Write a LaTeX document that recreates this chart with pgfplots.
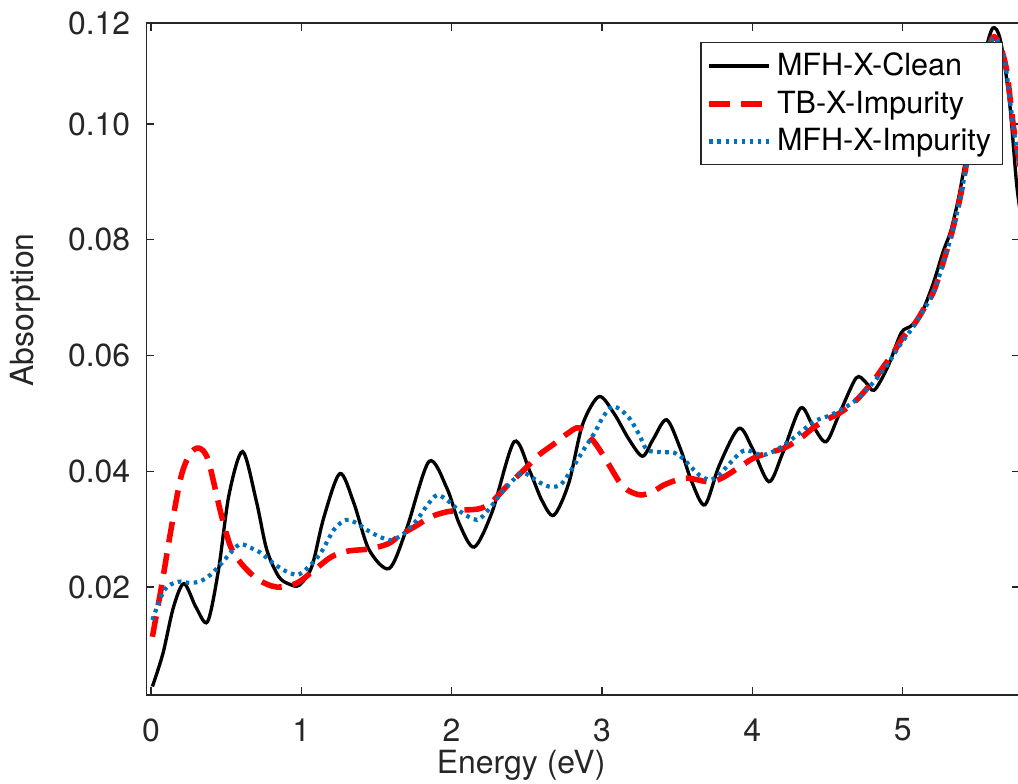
\documentclass[border=0pt]{standalone}
\usepackage{fontspec}
\setmainfont{TeX Gyre Heros}
\usepackage{pgfplots}
\pgfplotsset{compat=1.18}
\definecolor{axgray}{rgb}{0.15,0.15,0.15}
\definecolor{mblue}{rgb}{0,0.447,0.741}
\begin{document}
\begin{tikzpicture}
\begin{axis}[name=ax, scale only axis, width=314.5pt, height=241.9pt,
  xmin=-0.03, xmax=5.78, ymin=0.00134, ymax=0.11745,
  xtick={0,1,2,3,4,5},
  ytick={0.02,0.04,0.06,0.08,0.10,0.11745},
  yticklabels={0.02,0.04,0.06,0.08,0.10,0.12},
  scaled y ticks=false,
  /pgf/number format/assume math mode=true,
  tick label style={font=\fontsize{11.5}{13}\selectfont, text=axgray},
  yticklabel style={xshift=-2.3pt},
  xticklabel style={yshift=-5pt},
  axis line style={axgray, line width=0.5pt},
  major tick style={axgray, line width=0.5pt},
  major tick length=2.9pt,
  tick align=inside,
  xlabel={Energy (eV)}, ylabel={Absorption},
  label style={font=\fontsize{11.5}{13}\selectfont, text=axgray},
  xlabel style={at={(axis description cs:0.429,0)}, anchor=center, yshift=-25.2pt},
  ylabel style={at={(axis description cs:0,0.573)}, anchor=center, yshift=43.4pt},
  legend cell align=left,
  legend image code/.code={\draw[#1] (0cm,0cm) -- (0.75cm,0cm);},
  legend style={at={(1,1)}, anchor=north east, xshift=-6.1pt, yshift=-6.8pt,
    draw=axgray, line width=0.5pt, fill=white, font=\fontsize{11}{13}\selectfont,
    inner xsep=2pt, inner ysep=1.6pt, row sep=0pt},
]
\addplot[black, line width=1.2pt, smooth, tension=0.5] table {
0.01 0.0028
0.08 0.0085
0.15 0.0165
0.22 0.0206
0.30 0.0165
0.377 0.0140
0.45 0.0230
0.52 0.0360
0.61 0.0434
0.70 0.0350
0.77 0.0265
0.85 0.0218
0.92 0.0205
0.986 0.0203
1.07 0.0235
1.15 0.0320
1.257 0.0396
1.35 0.0345
1.45 0.0265
1.585 0.0232
1.70 0.0300
1.85 0.0417
1.97 0.0370
2.05 0.0310
2.15 0.0269
2.27 0.0330
2.416 0.0451
2.52 0.0400
2.60 0.0350
2.68 0.0324
2.78 0.0380
2.87 0.0480
2.98 0.0529
3.08 0.0500
3.18 0.0455
3.27 0.0426
3.34 0.0455
3.43 0.0489
3.52 0.0440
3.60 0.0380
3.685 0.0342
3.78 0.0410
3.91 0.0474
4.00 0.0440
4.11 0.0382
4.20 0.0430
4.32 0.0509
4.40 0.0480
4.49 0.0451
4.58 0.0500
4.69 0.0561
4.75 0.0555
4.81 0.0540
4.90 0.0580
4.99 0.0639
5.05 0.0650
5.12 0.0670
5.20 0.0722
5.27 0.0780
5.32 0.0815
5.37 0.0870
5.41 0.0926
5.45 0.0985
5.50 0.1055
5.55 0.1125
5.60 0.1166
5.65 0.1145
5.71 0.1040
5.76 0.0891
5.80 0.0820
};
\addlegendentry{MFH-X-Clean}
\addplot[red, line width=2pt, dash pattern=on 7.5pt off 4pt, smooth, tension=0.5] table {
0.01 0.0114
0.07 0.0200
0.133 0.0298
0.20 0.0390
0.26 0.0430
0.32 0.0440
0.38 0.0420
0.465 0.0328
0.53 0.0270
0.60 0.0241
0.70 0.0215
0.80 0.0202
0.875 0.0200
0.98 0.0208
1.085 0.0229
1.20 0.0252
1.31 0.0262
1.46 0.0266
1.58 0.0275
1.66 0.0290
1.76 0.0305
1.86 0.0321
1.97 0.0330
2.08 0.0333
2.18 0.0335
2.26 0.0345
2.37 0.0375
2.48 0.0402
2.58 0.0428
2.68 0.0447
2.77 0.0465
2.85 0.0475
2.95 0.0450
3.04 0.0414
3.12 0.0380
3.18 0.0366
3.26 0.0359
3.34 0.0365
3.41 0.0376
3.50 0.0385
3.57 0.0388
3.64 0.0385
3.70 0.0382
3.77 0.0385
3.83 0.0393
3.92 0.0408
4.01 0.0423
4.11 0.0432
4.21 0.0440
4.31 0.0455
4.41 0.0476
4.50 0.0490
4.59 0.0502
4.70 0.0525
4.81 0.0558
4.87 0.0580
4.94 0.0605
4.99 0.0627
5.08 0.0655
5.15 0.0685
5.21 0.0713
5.28 0.0770
5.33 0.0815
5.38 0.0870
5.42 0.0925
5.46 0.0985
5.51 0.1055
5.56 0.1120
5.60 0.1150
5.64 0.1140
5.69 0.1095
5.74 0.0990
5.80 0.0900
};
\addlegendentry{TB-X-Impurity}
\addplot[mblue, line width=1.5pt, dash pattern=on 1.3pt off 1.6pt, smooth, tension=0.5] table {
0.01 0.0143
0.09 0.0195
0.18 0.0209
0.26 0.0207
0.33 0.0210
0.40 0.0222
0.47 0.0241
0.585 0.0273
0.66 0.0268
0.73 0.0259
0.81 0.0242
0.885 0.0229
0.975 0.0221
1.05 0.0235
1.13 0.0259
1.22 0.0300
1.30 0.0316
1.37 0.0310
1.44 0.0298
1.52 0.0287
1.60 0.0281
1.68 0.0292
1.77 0.0316
1.84 0.0342
1.905 0.0359
1.98 0.0348
2.06 0.0330
2.17 0.0316
2.25 0.0335
2.33 0.0362
2.41 0.0385
2.48 0.0397
2.59 0.0380
2.66 0.0373
2.73 0.0378
2.81 0.0408
2.88 0.0438
2.95 0.0466
3.01 0.0495
3.07 0.0512
3.13 0.0505
3.19 0.0489
3.25 0.0462
3.30 0.0437
3.39 0.0433
3.48 0.0432
3.54 0.0422
3.59 0.0408
3.65 0.0393
3.72 0.0385
3.78 0.0394
3.83 0.0408
3.92 0.0432
3.97 0.0436
4.06 0.0428
4.13 0.0433
4.21 0.0445
4.31 0.0465
4.41 0.0486
4.50 0.0495
4.59 0.0506
4.70 0.0525
4.81 0.0555
4.90 0.0585
4.99 0.0621
5.08 0.0653
5.15 0.0683
5.21 0.0712
5.28 0.0768
5.33 0.0813
5.38 0.0868
5.42 0.0922
5.46 0.0982
5.51 0.1052
5.56 0.1118
5.60 0.1148
5.64 0.1140
5.685 0.1099
5.74 0.0988
5.80 0.0900
};
\addlegendentry{MFH-X-Impurity}
\end{axis}
\pgfresetboundingbox
\path[use as bounding box] ([xshift=-52.7pt,yshift=-32pt]ax.south west) rectangle ([xshift=-0.7pt,yshift=8.3pt]ax.north east);
\end{tikzpicture}
\end{document}
